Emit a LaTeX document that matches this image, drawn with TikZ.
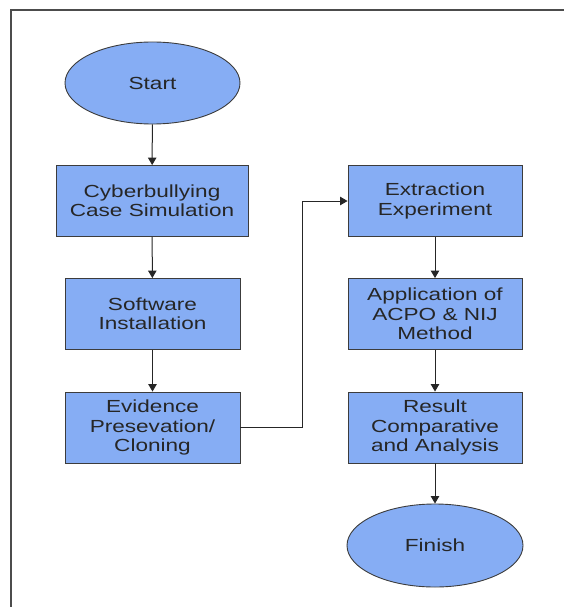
\documentclass[tikz,border=0pt]{standalone}
\usepackage{fontspec}
\setmainfont[FakeStretch=1.29]{Liberation Sans}
\usetikzlibrary{shapes.geometric,arrows.meta,positioning}
\definecolor{boxfill}{RGB}{134,173,244}
\definecolor{boxline}{RGB}{60,60,60}
\begin{document}
\begin{tikzpicture}[x=1pt,y=-1pt,
  every node/.style={font=\fontsize{17.5}{19.3}\selectfont, text=black!85},
  procbox/.style={rectangle, draw=boxline, line width=0.9pt, fill=boxfill, minimum height=71pt, align=center, inner sep=2pt},
  termnode/.style={ellipse, draw=boxline, line width=0.9pt, fill=boxfill, minimum width=175pt, minimum height=82pt},
  flow/.style={draw=black!85, line width=1pt, -{Triangle[length=7.5pt,width=8.5pt]}}]
\useasboundingbox (0,0) rectangle (564,607);
\draw[draw=black!70, line width=1.2pt] (11,607) -- (11,10) -- (564,10);
\node[termnode] (start) at (152.5,83) {Start};
\node[procbox, minimum width=192pt] (cyb) at (152,201) {Cyberbullying\\Case Simulation};
\node[procbox, minimum width=175pt] (soft) at (152.5,314) {Software\\Installation};
\node[procbox, minimum width=175pt] (evid) at (152.5,427.5) {Evidence\\Presevation/\\Cloning};
\node[procbox, minimum width=174pt] (extr) at (435,201) {Extraction\\Experiment};
\node[procbox, minimum width=174pt] (appl) at (435,314) {Application of\\ACPO \& NIJ\\Method};
\node[procbox, minimum width=174pt] (res) at (435,427.5) {Result\\Comparative\\and Analysis};
\node[termnode, minimum width=176pt, minimum height=83pt] (fin) at (435,545.5) {Finish};
\draw[flow] (start) -- (cyb);
\draw[flow] (cyb) -- (soft);
\draw[flow] (soft) -- (evid);
\draw[flow] (evid.east) -- ++(62,0) |- (extr.west);
\draw[flow] (extr) -- (appl);
\draw[flow] (appl) -- (res);
\draw[flow] (res) -- (fin);
\end{tikzpicture}
\end{document}
